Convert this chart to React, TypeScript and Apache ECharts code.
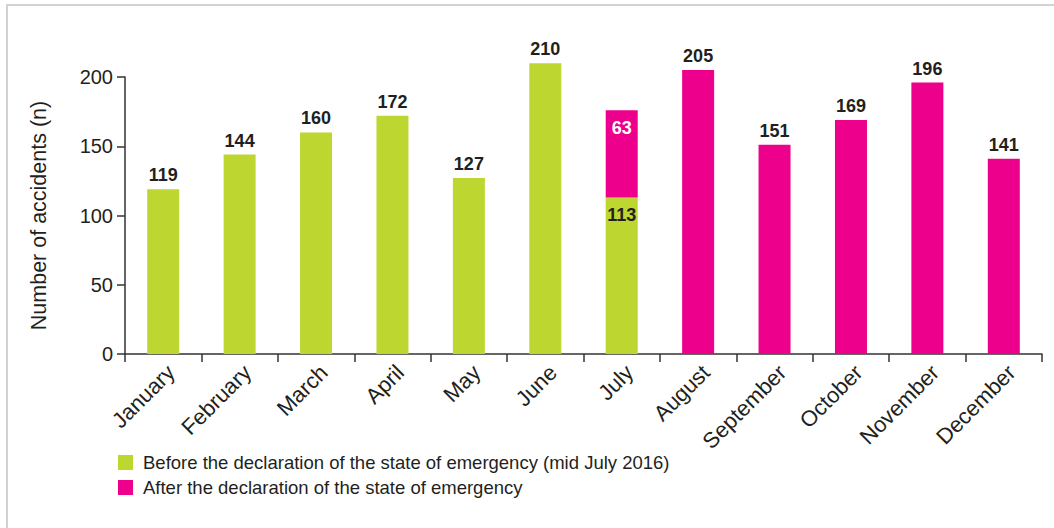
import React, { useEffect, useRef } from "react";
import * as echarts from "echarts";

const months = ["January","February","March","April","May","June","July","August","September","October","November","December"];
const beforeValues: (number | null)[] = [119,144,160,172,127,210,113,null,null,null,null,null];
const afterValues: (number | null)[] = [null,null,null,null,null,null,63,205,151,169,196,141];
const seriesNames = [
  "Before the declaration of the state of emergency (mid July 2016)",
  "After the declaration of the state of emergency",
];
const splitIndex = 6; // July, both parts

const GREEN = "#BED630";
const MAGENTA = "#EC008C";
const TEXT = "#231F20";
const FONT = "'Liberation Sans', Arial, Helvetica, sans-serif";

export default function App() {
  const ref = useRef<HTMLDivElement>(null);
  useEffect(() => {
    if (!ref.current) return;
    const chart = echarts.init(ref.current, null, { renderer: "svg" });
    const lbl = { show: true, position: "top", fontSize: 18, fontWeight: "bold", color: TEXT, fontFamily: FONT, distance: 5 };
    const beforeData = beforeValues.map((v, i) =>
      i === splitIndex ? { value: v, label: { position: "insideTop", color: TEXT, distance: 9 } } : v
    );
    const afterData = afterValues.map((v, i) =>
      i === splitIndex ? { value: v, label: { position: "insideTop", color: "#ffffff", distance: 9 } } : v
    );
    chart.setOption({
      animation: false,
      textStyle: { fontFamily: FONT },
      graphic: [
        { type: "rect", shape: { x: 7, y: 5, width: 1200, height: 700 }, style: { fill: "none", stroke: "#d2d2d2", lineWidth: 2 }, silent: true },
      ],
      grid: { left: 125, right: 12, top: 77, bottom: 174 },
      legend: {
        orient: "vertical",
        left: 118,
        top: 453,
        padding: 0,
        itemWidth: 15,
        itemHeight: 15,
        itemGap: 6,
        icon: "rect",
        textStyle: { fontSize: 18.5, color: TEXT, fontFamily: FONT, padding: [0, 0, 0, 5] },
        data: seriesNames,
      },
      xAxis: {
        type: "category",
        data: months,
        axisLine: { lineStyle: { color: "#333", width: 1.5 } },
        axisTick: { show: true, length: 8, lineStyle: { color: "#333", width: 1.5 } },
        axisLabel: { rotate: 45, fontSize: 22, color: TEXT, fontFamily: FONT, margin: 7, verticalAlign: "top" },
      },
      yAxis: {
        type: "value",
        min: 0,
        max: 200,
        interval: 50,
        name: "Number of accidents (n)",
        nameLocation: "middle",
        nameGap: 75,
        nameTextStyle: { fontSize: 21.5, color: TEXT, fontFamily: FONT },
        axisLine: { show: true, lineStyle: { color: "#333", width: 1.5 } },
        axisTick: { show: true, length: 8, lineStyle: { color: "#333", width: 1.5 } },
        axisLabel: { fontSize: 20, color: TEXT, fontFamily: FONT, margin: 12 },
        splitLine: { show: false },
      },
      series: [
        { name: seriesNames[0], type: "bar", stack: "total", barWidth: 32, clip: false, itemStyle: { color: GREEN }, label: lbl, data: beforeData },
        { name: seriesNames[1], type: "bar", stack: "total", barWidth: 32, clip: false, itemStyle: { color: MAGENTA }, label: lbl, data: afterData },
      ],
    });
    return () => chart.dispose();
  }, []);
  return <div ref={ref} style={{ position: "fixed", left: 0, top: 0, width: 1054, height: 528, background: "#fff" }} />;
}
